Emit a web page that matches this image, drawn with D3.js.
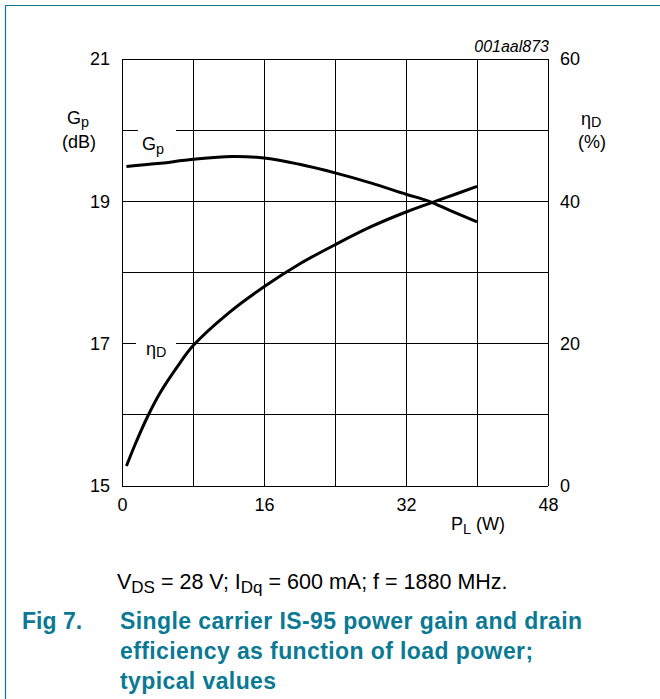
<!DOCTYPE html>
<html lang="en">
<head>
  <meta charset="UTF-8" />
  <title>Fig 7</title>
  <script src="https://d3js.org/d3.v7.min.js"></script>
  <style>
    * { margin: 0; padding: 0; }
    body { background: #fff; font-family: 'Liberation Sans', Arial, sans-serif; }
    svg text { font-family: 'Liberation Sans', Arial, sans-serif; }
  </style>
</head>
<body>
  <svg id="chart" width="660" height="699"></svg>
  <script>
    // load power P_L (W) vs. power gain G_p (dB)
    const gainP = [0.5, 4, 8, 12.4, 16, 20, 24, 28, 32, 34.6, 37, 40];
    const gainDb = [19.49, 19.53, 19.59, 19.63, 19.61, 19.52, 19.40, 19.26, 19.10, 19.0, 18.87, 18.71];
    // load power P_L (W) vs. drain efficiency (%)
    const effP = [0.5, 1.5, 2.9, 4.3, 6.2, 8, 12, 16, 20, 24, 28, 32, 36, 40];
    const effPct = [2.8, 5.9, 9.8, 13.1, 16.7, 19.7, 24.3, 28, 31.2, 33.9, 36.4, 38.5, 40.3, 42.1];

    const xTicks = [0, 16, 32, 48];
    const xGrid = [0, 8, 16, 24, 32, 40, 48];
    const gTicks = [15, 17, 19, 21];
    const gGrid = [15, 16, 17, 18, 19, 20, 21];
    const eTicks = [0, 20, 40, 60];

    const teal = '#0a7a94';
    const svg = d3.select('#chart');

    const x = d3.scaleLinear().domain([0, 48]).range([122, 548]);
    const yG = d3.scaleLinear().domain([15, 21]).range([486, 59]);
    const yE = d3.scaleLinear().domain([0, 60]).range([486, 59]);

    // teal frame (top + left)
    svg.append('path')
      .attr('d', 'M5.5,699 V5.5 H660')
      .attr('fill', 'none').attr('stroke', teal).attr('stroke-width', 1.2);

    // grid
    const grid = svg.append('g').attr('stroke', '#000').attr('stroke-width', 1)
      .attr('shape-rendering', 'crispEdges');
    xGrid.forEach(v => {
      grid.append('line').attr('x1', x(v)).attr('x2', x(v)).attr('y1', yG(21)).attr('y2', yG(15));
    });
    // gaps in horizontal lines for the in-plot labels
    const gaps = { 20: [138, 176], 17: [136, 176] };
    gGrid.forEach(v => {
      const g = gaps[v];
      if (g) {
        grid.append('line').attr('x1', x(0)).attr('x2', g[0]).attr('y1', yG(v)).attr('y2', yG(v));
        grid.append('line').attr('x1', g[1]).attr('x2', x(48)).attr('y1', yG(v)).attr('y2', yG(v));
      } else {
        grid.append('line').attr('x1', x(0)).attr('x2', x(48)).attr('y1', yG(v)).attr('y2', yG(v));
      }
    });

    // tick labels via axes
    const styleAxis = sel => {
      sel.select('.domain').remove();
      sel.selectAll('text').attr('font-size', 18).attr('fill', '#000')
        .style('font-family', "'Liberation Sans', Arial, sans-serif");
    };
    svg.append('g').attr('transform', `translate(${x(0)},0)`)
      .call(d3.axisLeft(yG).tickValues(gTicks).tickSize(0).tickPadding(12).tickFormat(d3.format('d')))
      .call(styleAxis);
    svg.append('g').attr('transform', `translate(${x(48)},0)`)
      .call(d3.axisRight(yE).tickValues(eTicks).tickSize(0).tickPadding(12).tickFormat(d3.format('d')))
      .call(styleAxis);
    svg.append('g').attr('transform', `translate(0,${yG(15)})`)
      .call(d3.axisBottom(x).tickValues(xTicks).tickSize(0).tickPadding(12).tickFormat(d3.format('d')))
      .call(styleAxis);

    // curves
    const lineG = d3.line().x((d, i) => x(gainP[i])).y(d => yG(d)).curve(d3.curveCatmullRom.alpha(0.5));
    const lineE = d3.line().x((d, i) => x(effP[i])).y(d => yE(d)).curve(d3.curveCatmullRom.alpha(0.5));
    svg.append('path').attr('d', lineG(gainDb)).attr('fill', 'none').attr('stroke', '#000').attr('stroke-width', 3);
    svg.append('path').attr('d', lineE(effPct)).attr('fill', 'none').attr('stroke', '#000').attr('stroke-width', 3);

    // labels with subscripts
    function subText(xp, yp, main, sub, size, shift, anchor) {
      const t = svg.append('text').attr('x', xp).attr('y', yp).attr('font-size', size)
        .attr('text-anchor', anchor || 'start').attr('fill', '#000');
      t.append('tspan').text(main);
      t.append('tspan').attr('dy', shift).attr('font-size', size * 0.8).text(sub);
      return t;
    }
    subText(67, 124, 'G', 'p', 18, 3);
    svg.append('text').attr('x', 79).attr('y', 148).attr('font-size', 18).attr('text-anchor', 'middle').text('(dB)');
    subText(142, 150, 'G', 'p', 18, 4);

    subText(581, 125, 'η', 'D', 18, 2);
    svg.append('text').attr('x', 592).attr('y', 148).attr('font-size', 18).attr('text-anchor', 'middle').text('(%)');
    subText(146, 355, 'η', 'D', 18, 2);

    subText(451, 530, 'P', 'L', 18, 4).append('tspan').attr('dy', -4).text(' (W)');

    svg.append('text').attr('x', 549).attr('y', 52).attr('font-size', 16)
      .attr('font-style', 'italic').attr('text-anchor', 'end').text('001aal873');

    // caption
    const cap = svg.append('text').attr('x', 117).attr('y', 589).attr('font-size', 21.5).attr('fill', '#000');
    cap.append('tspan').text('V');
    cap.append('tspan').attr('dy', 4).attr('font-size', 17).text('DS');
    cap.append('tspan').attr('dy', -4).text(' = 28 V; I');
    cap.append('tspan').attr('dy', 4).attr('font-size', 17).text('Dq');
    cap.append('tspan').attr('dy', -4).text(' = 600 mA; f = 1880 MHz.');

    const titleLines = ['Single carrier IS-95 power gain and drain', 'efficiency as function of load power;', 'typical values'];
    svg.append('text').attr('x', 22).attr('y', 629).attr('font-size', 23).attr('font-weight', 'bold')
      .attr('fill', teal).text('Fig 7.');
    titleLines.forEach((l, i) => {
      svg.append('text').attr('x', 120).attr('y', 629 + i * 30).attr('font-size', 23).attr('font-weight', 'bold')
        .attr('letter-spacing', 0.4).attr('fill', teal).text(l);
    });
  </script>
</body>
</html>
